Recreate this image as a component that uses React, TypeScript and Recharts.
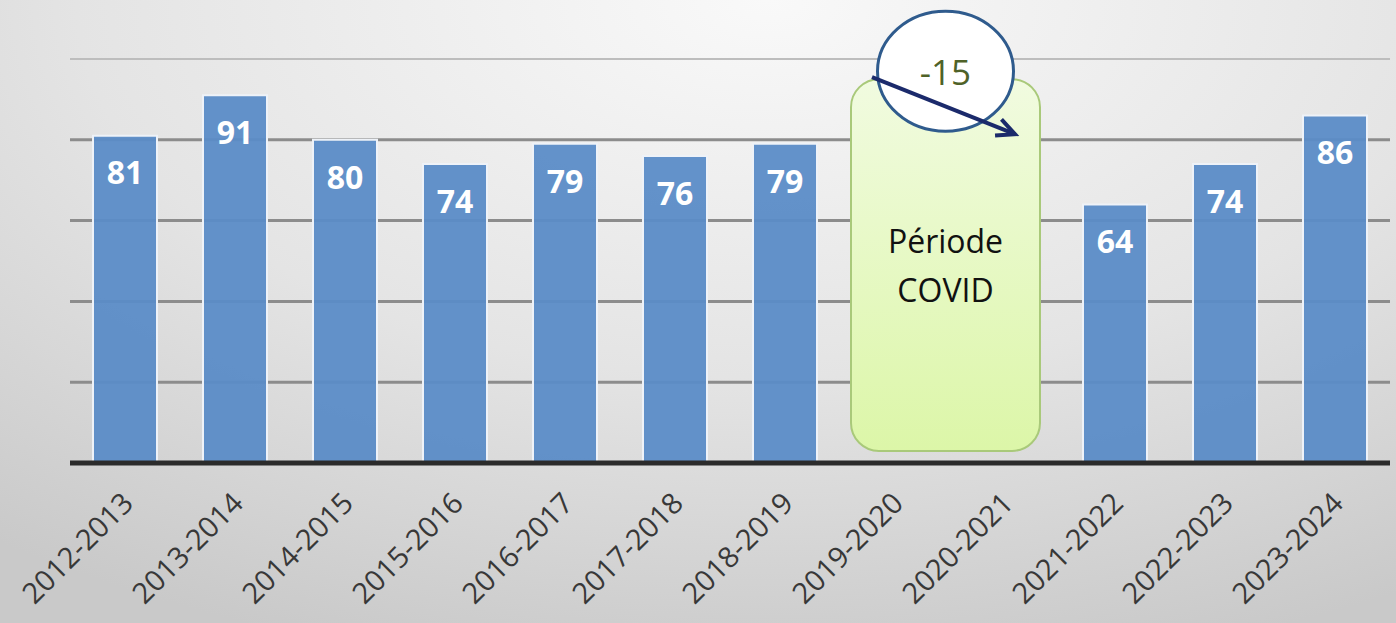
import { BarChart, Bar, XAxis, YAxis, CartesianGrid, LabelList, ReferenceArea } from 'recharts';

const years = [
  '2012-2013', '2013-2014', '2014-2015', '2015-2016', '2016-2017', '2017-2018',
  '2018-2019', '2019-2020', '2020-2021', '2021-2022', '2022-2023', '2023-2024',
];
// pas de valeur pendant la période COVID
const students: (number | null)[] = [81, 91, 80, 74, 79, 76, 79, null, null, 64, 74, 86];
const yTicks = [0, 20, 40, 60, 80, 100];
const covidStart = '2019-2020';
const covidEnd = '2020-2021';
const covidLines = ['Période', 'COVID'];
const covidChange = -15;

const data = years.map((year, i) => ({ year, value: students[i] }));

const FONT = '"Open Sans", "Liberation Sans", sans-serif';

function YearTick(props: any) {
  const { x, y, payload } = props;
  return (
    <g transform={`translate(${x + 10},${y + 34})`}>
      <text
        transform="rotate(-45)"
        textAnchor="end"
        fontSize={29}
        fontFamily={FONT}
        fill="#383838"
      >
        {payload.value}
      </text>
    </g>
  );
}

function GridLine(p: any) {
  const top = p.y1 < 70;
  return (
    <line x1={p.x1} y1={p.y1} x2={p.x2} y2={p.y2}
      stroke={top ? '#bdbdbd' : '#8c8c8c'} strokeWidth={top ? 2 : 3} />
  );
}

// boîte "Période COVID" + bulle -15 avec flèche
function CovidBox(props: any) {
  const { x, y, width, height } = props;
  const bx = x + 11;
  const bw = width - 31;
  const cx = bx + bw / 2;
  const ax1 = bx + 21, ay1 = y - 2;
  const ax2 = bx + 164, ay2 = y + 55;
  const ang = Math.atan2(ay2 - ay1, ax2 - ax1);
  const head = 20;
  const h1x = ax2 - head * Math.cos(ang - 0.45), h1y = ay2 - head * Math.sin(ang - 0.45);
  const h2x = ax2 - head * Math.cos(ang + 0.45), h2y = ay2 - head * Math.sin(ang + 0.45);
  return (
    <g>
      <defs>
        <linearGradient id="covidFill" x1="0" y1="0" x2="0" y2="1">
          <stop offset="0%" stopColor="#f1fbe0" />
          <stop offset="100%" stopColor="#dcf6a8" />
        </linearGradient>
      </defs>
      <rect x={bx} y={y} width={bw} height={height} rx={28} ry={28}
        fill="url(#covidFill)" stroke="#a9c97a" strokeWidth={2} />
      {covidLines.map((t, i) => (
        <text key={t} x={cx} y={y + 174 + i * 49} textAnchor="middle"
          fontSize={32} fontFamily={FONT} fill="#111">
          {t}
        </text>
      ))}
      <ellipse cx={cx} cy={y - 8} rx={68} ry={60} fill="#ffffff" stroke="#2f5b8d" strokeWidth={3} />
      <text x={cx} y={y + 6} textAnchor="middle" fontSize={35} fontFamily={FONT} fill="#4f6228">
        {covidChange}
      </text>
      <line x1={ax1} y1={ay1} x2={ax2} y2={ay2} stroke="#1b2a6b" strokeWidth={4} />
      <polyline points={`${h1x},${h1y} ${ax2},${ay2} ${h2x},${h2y}`} fill="none"
        stroke="#1b2a6b" strokeWidth={4} strokeLinejoin="miter" />
    </g>
  );
}

export default function App() {
  return (
    <div
      style={{
        position: 'absolute',
        left: 0,
        top: 0,
        width: 1396,
        height: 623,
        overflow: 'hidden',
        background: 'radial-gradient(ellipse 90% 110% at 55% 0%, #f9f9f9 0%, #e4e4e4 55%, #c9c9c9 100%)',
      }}
    >
      <BarChart
        width={1396}
        height={623}
        data={data}
        margin={{ top: 59, right: 6, bottom: 10, left: 70 }}
      >
        <CartesianGrid vertical={false} horizontal={(p: any) => <GridLine key={p.key ?? p.y1} {...p} />} />
        <XAxis
          dataKey="year"
          interval={0}
          height={150}
          tickLine={false}
          axisLine={{ stroke: '#2b2b2b', strokeWidth: 5 }}
          tick={<YearTick />}
        />
        <YAxis hide domain={[0, 100]} ticks={yTicks} />
        <Bar
          dataKey="value"
          barSize={64}
          fill="#5b8cc7"
          fillOpacity={0.95}
          stroke="#eef2f8"
          strokeWidth={2}
          isAnimationActive={false}
        >
          <LabelList
            dataKey="value"
            position="insideTop"
            offset={26}
            fill="#ffffff"
            fontSize={32}
            fontWeight="bold"
            fontFamily={FONT}
          />
        </Bar>
        <ReferenceArea
          x1={covidStart}
          x2={covidEnd}
          y1={3}
          y2={95}
          ifOverflow="visible"
          shape={(p: any) => <CovidBox {...p} />}
        />
      </BarChart>
    </div>
  );
}
